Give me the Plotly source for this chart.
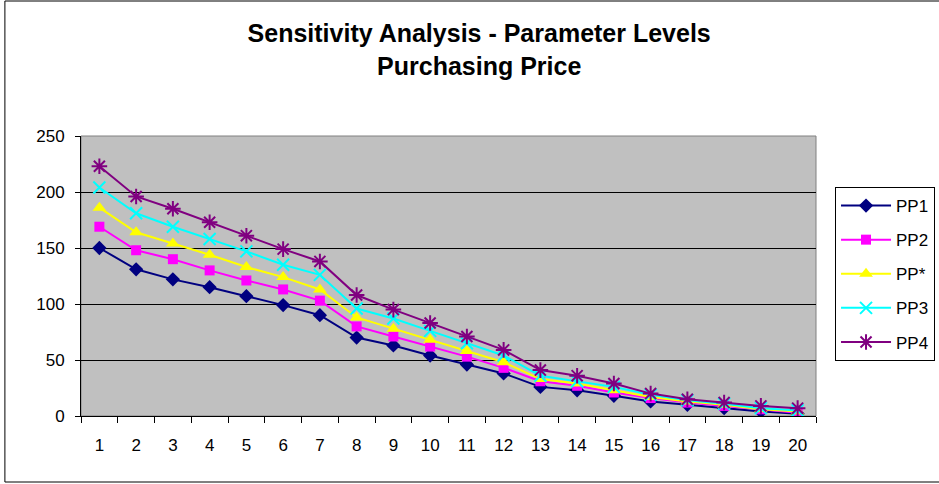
import plotly.graph_objects as go

categories = [str(i) for i in range(1, 21)]
pp1 = [150, 131, 122, 115, 107, 99, 90, 70, 63, 54, 46, 38, 26, 23, 18, 13, 10, 7, 4, 2]
pp2 = [169, 148, 140, 130, 121, 113, 103, 80, 71, 62, 53, 43, 31, 27, 21, 16, 12, 9, 6, 3]
pp_star = [186, 164, 154, 144, 133, 124, 113, 88, 78, 68, 58, 48, 33, 29, 23, 17, 13, 10, 6, 4]
pp3 = [204, 181, 169, 158, 147, 135, 126, 96, 87, 76, 65, 54, 36, 31, 26, 19, 14, 11, 7, 5]
pp4 = [223, 196, 185, 173, 161, 149, 138, 108, 95, 83, 71, 59, 41, 36, 29, 20, 15, 12, 9, 7]

series = [
    ("PP1", pp1, "#000080", dict(symbol="diamond", size=11, color="#000080")),
    ("PP2", pp2, "#FF00FF", dict(symbol="square", size=10, color="#FF00FF")),
    ("PP*", pp_star, "#FFFF00", dict(symbol="triangle-up", size=12, color="#FFFF00")),
    ("PP3", pp3, "#00FFFF", dict(symbol="x-thin-open", size=12, color="#00FFFF", line=dict(width=2, color="#00FFFF"))),
    ("PP4", pp4, "#800080", dict(symbol="asterisk-open", size=13, color="#800080", line=dict(width=2, color="#800080"))),
]

fig = go.Figure()
for name, vals, col, mk in series:
    fig.add_trace(go.Scatter(x=categories, y=vals, name=name, mode="lines+markers",
                             legendgroup=name,
                             line=dict(color=col, width=2), marker=mk))

W, H = 947, 484
WE = 939
L, R, T, B = 81, WE - 815, 136, 68
pw, ph = WE - L - R, H - T - B

def px(x):
    return (x - L) / pw

def py(y):
    return (H - B - y) / ph

fig.update_layout(
    width=W, height=H, autosize=False,
    margin=dict(l=L, r=R, t=T, b=B),
    paper_bgcolor="white",
    plot_bgcolor="#C0C0C0",
    font=dict(family="Liberation Sans, Arial, sans-serif", size=17, color="black"),
    title=dict(text="<b>Sensitivity Analysis - Parameter Levels<br>Purchasing Price</b>",
               x=0.506, xanchor="center", xref="container", y=1 - 42 / H, yanchor="top", yref="container",
               font=dict(size=25, color="black")),
    showlegend=True,
    legend=dict(x=px(834), y=py(187), xanchor="left", yanchor="top",
                bgcolor="white", bordercolor="black", borderwidth=1,
                font=dict(size=17), itemwidth=50, tracegroupgap=9),
    xaxis=dict(type="category", range=[-0.5, 19.5], tickson="boundaries", ticks="outside", ticklen=6,
               tickcolor="black", showline=True, linecolor="black", linewidth=1,
               showgrid=False, mirror=False, tickfont=dict(size=17), ticklabelstandoff=14),
    yaxis=dict(range=[0, 250], dtick=50, ticks="outside", ticklen=5, tickcolor="black",
               showline=True, linecolor="black", linewidth=1, gridcolor="black",
               gridwidth=1, zeroline=False, tickfont=dict(size=17), ticklabelstandoff=7),
    shapes=[
        dict(type="rect", xref="paper", yref="paper", x0=0, x1=1, y0=0, y1=1,
             line=dict(color="#808080", width=1), layer="below"),
        dict(type="rect", xref="paper", yref="paper", x0=px(5), x1=px(WE + 10), y0=py(482), y1=py(1),
             line=dict(color="black", width=1)),
    ],
)

fig.write_html(
    "out.html",
    config={"displayModeBar": False, "responsive": False},
    post_script=(
        "document.documentElement.style.overflow='hidden';"
        "document.body.style.overflow='hidden';"
        "document.body.style.margin='0px';document.body.style.padding='0px';"
    ),
)
